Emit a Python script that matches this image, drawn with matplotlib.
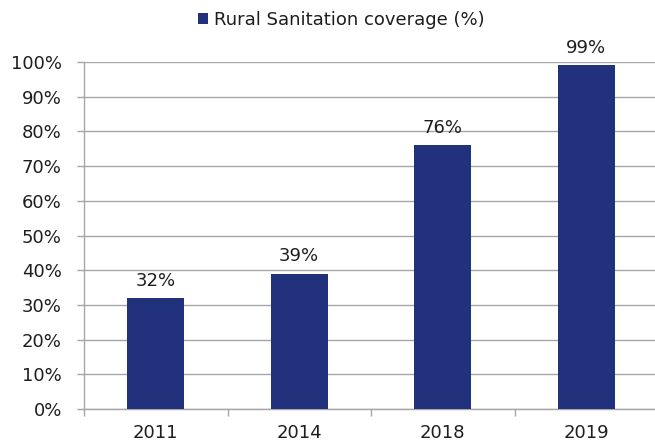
import matplotlib
matplotlib.use('Agg')
import matplotlib.pyplot as plt
from matplotlib.ticker import FuncFormatter, FixedLocator
import numpy as np

years = ['2011', '2014', '2018', '2019']
coverage = [32, 39, 76, 99]
series_name = 'Rural Sanitation coverage (%)'

plt.rcParams['font.family'] = ['DejaVu Sans']

bar_color = '#22317c'
grid_color = '#a6a6a6'
text_color = '#1e1e1e'
fsize = 13

fig = plt.figure(figsize=(6.55, 4.42), dpi=100)
ax = fig.add_axes([84 / 655, 1 - 409 / 442, 574 / 655, 347 / 442])

x = np.arange(len(years))
ax.bar(x, coverage, width=0.4, color=bar_color, label=series_name, zorder=3)

for xi, v in zip(x, coverage):
    ax.annotate(f'{v}%', (xi, v), xytext=(0, 6), textcoords='offset points',
                ha='center', va='bottom', fontsize=fsize, color=text_color)

ax.set_xlim(-0.5, len(years) - 0.5)
ax.set_ylim(0, 100)
ax.set_yticks(np.arange(0, 101, 10))
ax.yaxis.set_major_formatter(FuncFormatter(lambda v, p: f'{v:.0f}%'))
ax.yaxis.grid(True, color=grid_color, linewidth=1.0, zorder=0)

# category labels centred, tick marks on the category boundaries
ax.set_xticks(x)
ax.set_xticklabels(years)
ax.xaxis.set_minor_locator(FixedLocator(np.arange(-0.5, len(years), 1.0)))
ax.tick_params(axis='x', which='major', length=0, pad=11, labelsize=fsize, labelcolor=text_color)
ax.tick_params(axis='x', which='minor', length=5, width=1.0, color=grid_color)
ax.tick_params(axis='y', length=5, width=1.0, color=grid_color, labelsize=fsize,
               labelcolor=text_color, pad=11)

for side in ['top', 'right']:
    ax.spines[side].set_visible(False)
for side in ['left', 'bottom']:
    ax.spines[side].set_color(grid_color)
    ax.spines[side].set_linewidth(1.0)

fig.legend(loc='center', bbox_to_anchor=(341 / 655, 1 - 20 / 442), frameon=False,
           fontsize=fsize, handlelength=0.6, handleheight=0.6, handletextpad=0.3,
           labelcolor=text_color)

fig.savefig('out.png', dpi=100)
